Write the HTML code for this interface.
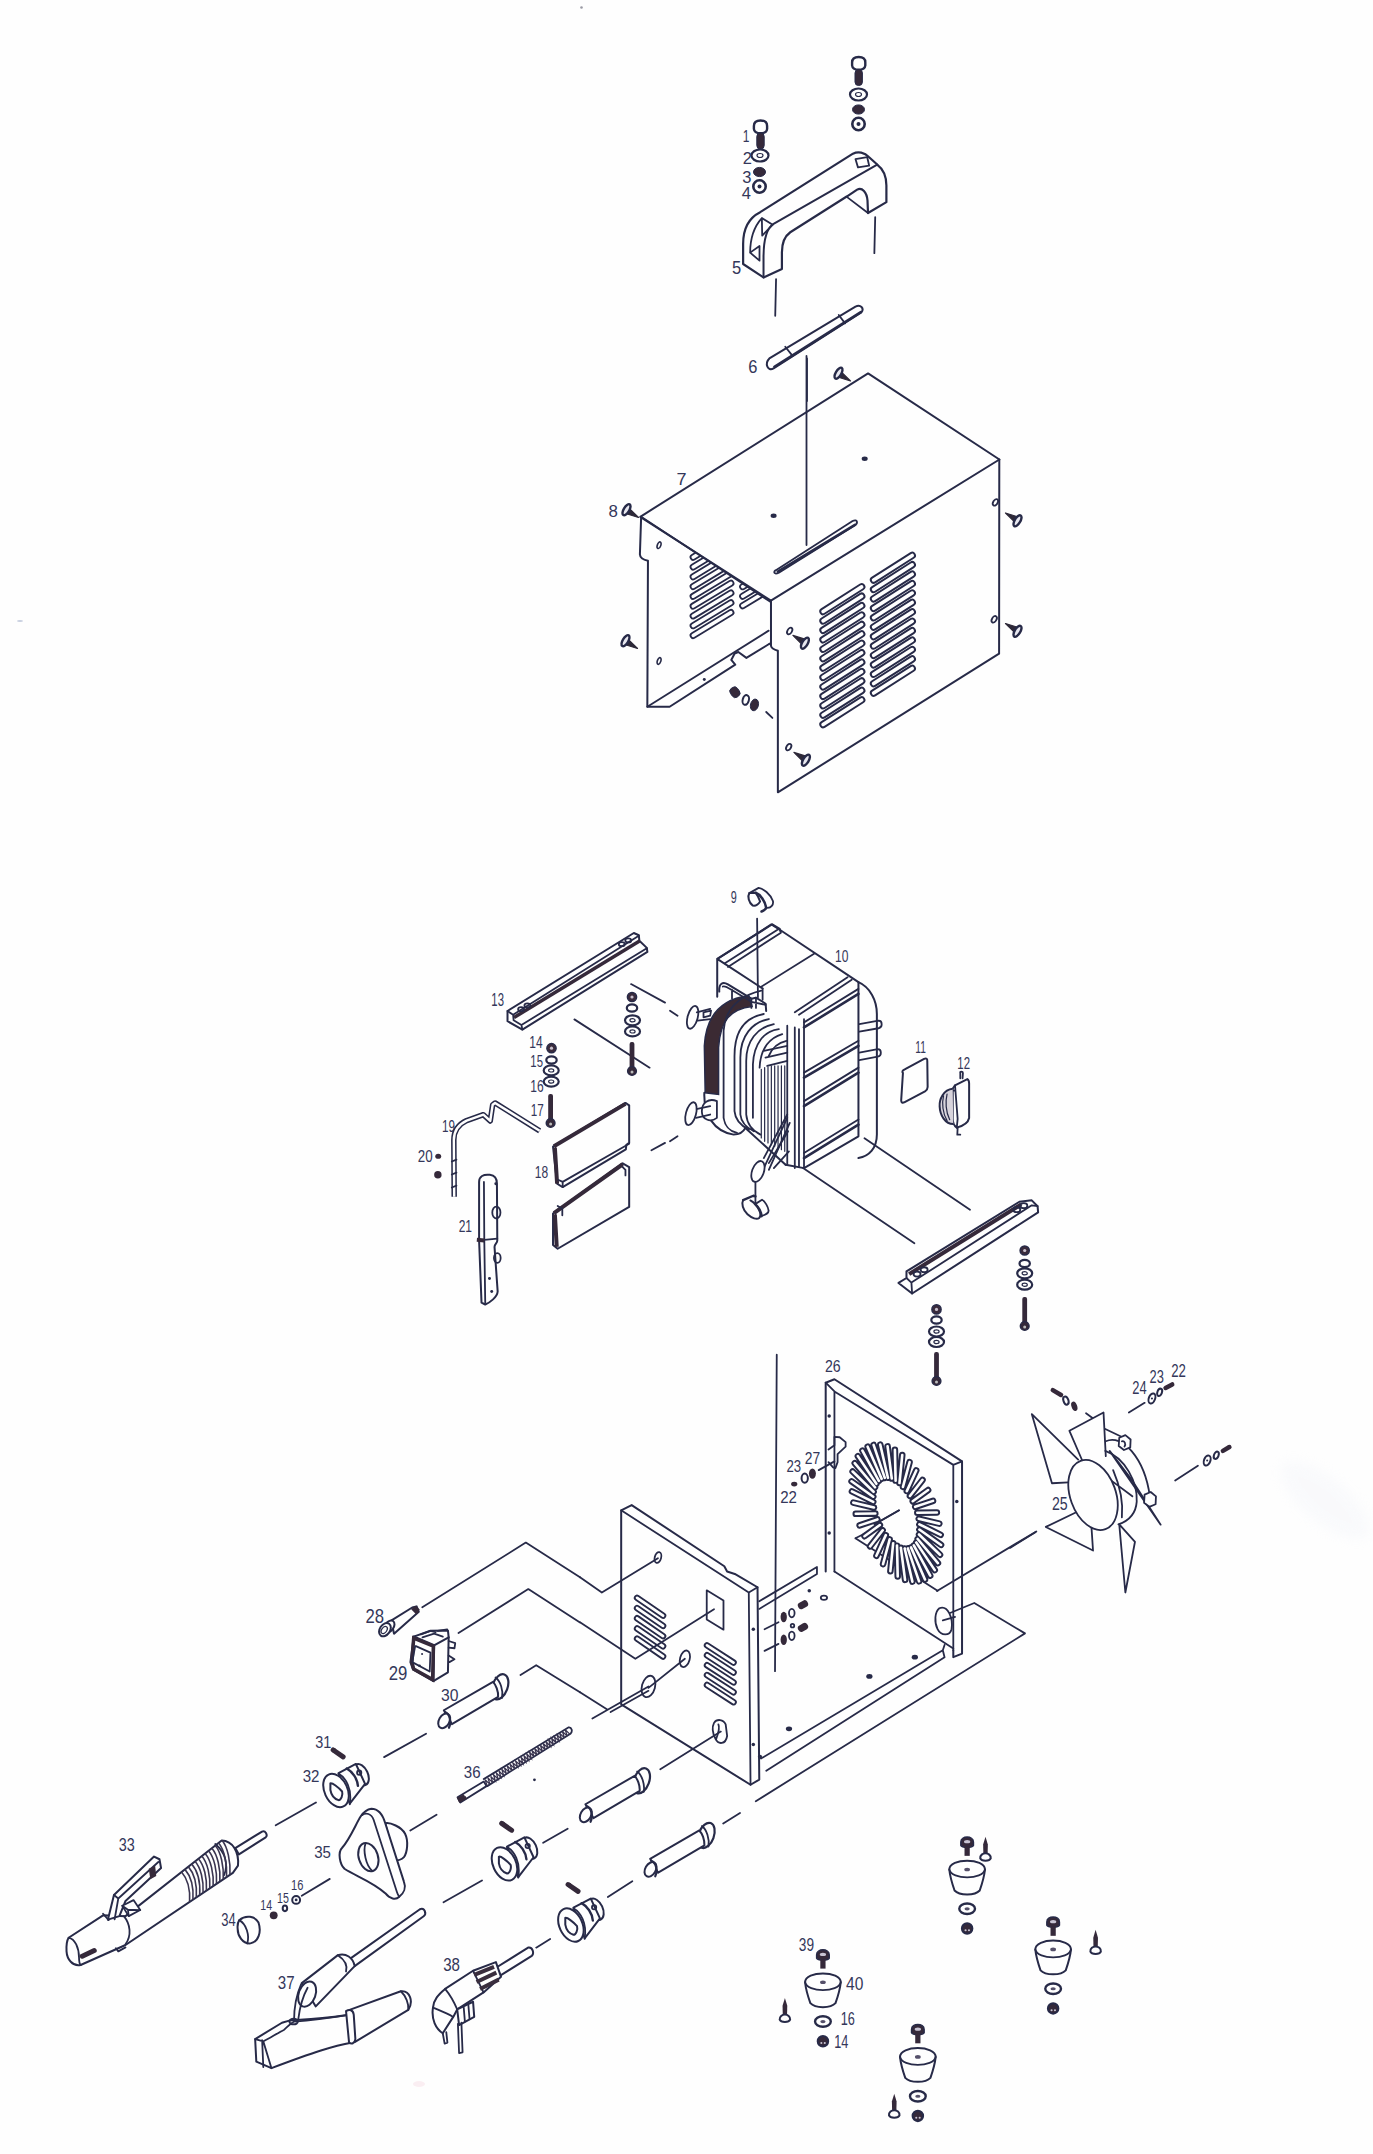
<!DOCTYPE html>
<html><head><meta charset="utf-8"><style>
html,body{margin:0;padding:0;background:#fefefe;width:1373px;height:2154px;overflow:hidden}
svg{display:block}
svg *{vector-effect:non-scaling-stroke}
.s{fill:none;stroke:#272a48;stroke-width:1.8;stroke-linejoin:round;stroke-linecap:round}
.t{fill:none;stroke:#272a48;stroke-width:1.2;stroke-linecap:round}
.k{fill:none;stroke:#272a48;stroke-width:2.6;stroke-linecap:round;stroke-linejoin:round}
.w{fill:#fefefe;stroke:#272a48;stroke-width:1.8;stroke-linejoin:round}
.f{fill:#35293a;stroke:#272a48;stroke-width:1}
text{font-family:"Liberation Sans",sans-serif;fill:#34375a;font-size:17px}
</style></head><body>
<svg width="1373" height="2154" viewBox="0 0 1373 2154">
<defs>
<g id="washer"><ellipse cx="0" cy="0" rx="8.5" ry="6" class="s" style="stroke-width:2.2"/><ellipse cx="0" cy="0" rx="3" ry="2" class="t"/></g>
<g id="lockw"><ellipse cx="0" cy="0" rx="6" ry="4.6" class="f"/></g>
<g id="nut"><circle cx="0" cy="0" r="6.2" class="s" style="stroke-width:2.6"/><circle cx="0" cy="0" r="2" fill="#272a48"/></g>
<g id="bolt"><path d="M-6.6,-1 Q-6.6,-6.5 0,-6.5 Q6.6,-6.5 6.6,-1 L6.6,2 Q6.2,6.2 0,6.2 Q-6.2,6.2 -6.6,2 Z" class="s" style="stroke-width:2.4"/><ellipse cx="0" cy="-1.5" rx="4" ry="2.6" fill="#fefefe"/><rect x="-3.7" y="6" width="7.4" height="16" rx="3.5" class="f"/></g>
<g id="scrB"><path d="M-12.5,-7.5 L-0.5,-3.8 L-3.5,1.4 Z" fill="#2d2838" stroke="#2d2838" stroke-width="1.2" stroke-linejoin="round"/><ellipse cx="-0.5" cy="0.3" rx="2.8" ry="6.2" transform="rotate(31 -0.5 0.3)" fill="#e8e8f0" stroke="#272a48" stroke-width="2.4"/></g>
<g id="scrA"><use href="#scrB" transform="scale(-1,-1)"/></g>
<g id="hole"><ellipse cx="0" cy="0" rx="2.2" ry="3.6" transform="rotate(30)" class="s" style="stroke-width:1.8"/></g>
<g id="nut2"><circle r="4.6" fill="#3a2b3c" stroke="#272a48" stroke-width="1.5"/><circle r="1.6" fill="#c8c0cc"/></g>
<g id="wsm"><ellipse rx="5.2" ry="3.6" class="s" style="stroke-width:2.2"/></g>
<g id="wbg"><ellipse rx="7.5" ry="5" class="s" style="stroke-width:2.2"/><ellipse rx="2.6" ry="1.6" class="t"/></g>
<g id="shaft"><rect x="-2.4" y="0" width="4.8" height="28" rx="2" fill="#35293a"/><circle cx="0" cy="29" r="4.4" fill="#35293a" stroke="#272a48" stroke-width="1.4"/><circle cx="0" cy="30" r="1.5" fill="#bbb"/></g>

</defs>

<!-- ===== G1: handle & top bolts ===== -->
<use href="#bolt" x="858.7" y="63.5"/>
<use href="#washer" x="858.5" y="94.5"/>
<use href="#lockw" x="858.5" y="109.5"/>
<use href="#nut" x="858.5" y="124"/>
<use href="#bolt" x="760.5" y="127"/>
<use href="#washer" x="760" y="155.5"/>
<use href="#lockw" x="759.5" y="172"/>
<use href="#nut" x="759.5" y="186.5"/>
<g transform="translate(700,40) scale(0.16717)">
 <text x="255" y="612" style="font-size:100px" textLength="40" lengthAdjust="spacingAndGlyphs">1</text>
 <text x="255" y="740" style="font-size:100px" textLength="55" lengthAdjust="spacingAndGlyphs">2</text>
 <text x="252" y="855" style="font-size:100px" textLength="55" lengthAdjust="spacingAndGlyphs">3</text>
 <text x="250" y="950" style="font-size:100px" textLength="55" lengthAdjust="spacingAndGlyphs">4</text>
 <text x="192" y="1402" style="font-size:110px" textLength="55" lengthAdjust="spacingAndGlyphs">5</text>
 <text x="288" y="1990" style="font-size:110px" textLength="55" lengthAdjust="spacingAndGlyphs">6</text>
 <!-- handle -->
 <path class="s" style="stroke-width:2.2" d="M258,1340 L258,1220 C258,1120 300,1060 360,1030 L915,680 C945,665 985,672 1010,700 L1060,745 C1100,775 1115,815 1115,870 L1115,970 L1005,1035 L1002,960 C998,910 970,880 940,895 L880,935 L540,1150 C505,1175 490,1215 490,1270 L490,1370 L380,1420 Z"/>
 <path class="s" style="stroke-width:2" d="M1060,745 L440,1100 C400,1125 380,1190 380,1300 L380,1420"/>
 <path class="s" d="M880,940 L1005,1035"/>
 <path class="s" d="M930,712 L1000,700 L1012,752 L945,762 Z"/>
 <path class="s" d="M370,1065 L435,1105 L372,1170 Z M300,1272 L356,1232 L356,1320 Z M370,1065 C320,1120 300,1200 300,1272"/>
 <path class="s" d="M455,1430 L450,1650 M1048,1060 L1043,1275 M640,1905 L640,2160"/>
 <!-- strip 6 -->
 <path class="s" style="stroke-width:2" d="M415,1905 L930,1595 C960,1580 985,1605 965,1630 L440,1965 C405,1985 385,1935 415,1905 Z"/>
 <path class="k" d="M445,1955 L962,1628"/>
 <path class="s" d="M510,1835 L550,1885 M830,1645 L868,1695"/>
</g>

<!-- ===== G2: cover ===== -->
<path class="s" d="M806.5,356 L806.5,545"/>
<g transform="translate(590,360) scale(0.33503)">
 <path class="s" style="stroke-width:2" d="M150,468 L830,40 L1222,297 L540,718 Z"/>
 <text x="258" y="372" style="font-size:52px" textLength="30" lengthAdjust="spacingAndGlyphs">7</text>
 <text x="55" y="470" style="font-size:52px" textLength="28" lengthAdjust="spacingAndGlyphs">8</text>
</g>
<use href="#scrA" x="838" y="373.5"/>
<use href="#scrA" x="626" y="510"/>
<use href="#scrA" x="625" y="641"/>
<use href="#scrB" x="805.4" y="642.9"/>
<use href="#scrB" x="806.4" y="759.9"/>
<use href="#scrB" x="1018" y="631"/>
<use href="#scrB" x="1018" y="520.5"/>
<use href="#hole" x="789.7" y="631"/>
<use href="#hole" x="788.7" y="747.1"/>
<use href="#hole" x="994.2" y="619.3"/>
<use href="#hole" x="995.4" y="502.4"/>
<ellipse cx="864.7" cy="458.8" rx="3" ry="2.2" fill="#272a48"/>
<ellipse cx="773.6" cy="515.8" rx="3" ry="2.2" fill="#272a48"/>
<g transform="translate(770,520) scale(0.19665)">
 <path class="s" style="stroke-width:2" d="M5,409 L5,640 Q8,655 40,665 L40,1385 L1165,680 L1166,-308"/>
 <!-- top slot -->
 <path class="s" d="M30,255 L420,5 C445,-8 450,18 430,28 L45,268 C20,280 15,262 30,255 Z"/>
 <path class="k" d="M40,262 L432,25"/>
 
 <g id="louvL">
 </g>
 <g fill="none" stroke="#272a48" stroke-width="7.5" stroke-linecap="round"><path d="M270,465.0 L466,340.0"/><path d="M270,512.9 L466,387.9"/><path d="M270,560.8 L466,435.8"/><path d="M270,608.7 L466,483.7"/><path d="M270,656.6 L466,531.6"/><path d="M270,704.5 L466,579.5"/><path d="M270,752.4 L466,627.4"/><path d="M270,800.3 L466,675.3"/><path d="M270,848.2 L466,723.2"/><path d="M270,896.1 L466,771.1"/><path d="M270,944.0 L466,819.0"/><path d="M270,991.9 L466,866.9"/><path d="M270,1039.8 L466,914.8"/><path d="M527,305.0 L723,180.0"/><path d="M527,352.9 L723,227.9"/><path d="M527,400.8 L723,275.8"/><path d="M527,448.7 L723,323.7"/><path d="M527,496.6 L723,371.6"/><path d="M527,544.5 L723,419.5"/><path d="M527,592.4 L723,467.4"/><path d="M527,640.3 L723,515.3"/><path d="M527,688.2 L723,563.2"/><path d="M527,736.1 L723,611.1"/><path d="M527,784.0 L723,659.0"/><path d="M527,831.9 L723,706.9"/><path d="M527,879.8 L723,754.8"/></g>
 <g fill="none" stroke="#fefefe" stroke-width="3.6" stroke-linecap="round"><path d="M270,465.0 L466,340.0"/><path d="M270,512.9 L466,387.9"/><path d="M270,560.8 L466,435.8"/><path d="M270,608.7 L466,483.7"/><path d="M270,656.6 L466,531.6"/><path d="M270,704.5 L466,579.5"/><path d="M270,752.4 L466,627.4"/><path d="M270,800.3 L466,675.3"/><path d="M270,848.2 L466,723.2"/><path d="M270,896.1 L466,771.1"/><path d="M270,944.0 L466,819.0"/><path d="M270,991.9 L466,866.9"/><path d="M270,1039.8 L466,914.8"/><path d="M527,305.0 L723,180.0"/><path d="M527,352.9 L723,227.9"/><path d="M527,400.8 L723,275.8"/><path d="M527,448.7 L723,323.7"/><path d="M527,496.6 L723,371.6"/><path d="M527,544.5 L723,419.5"/><path d="M527,592.4 L723,467.4"/><path d="M527,640.3 L723,515.3"/><path d="M527,688.2 L723,563.2"/><path d="M527,736.1 L723,611.1"/><path d="M527,784.0 L723,659.0"/><path d="M527,831.9 L723,706.9"/><path d="M527,879.8 L723,754.8"/></g>
</g>
<g transform="translate(630,500) scale(0.12382)">
 <clipPath id="lpclip"><path d="M90,135 L1130,820 L1130,1800 L0,1800 Z"/></clipPath>
 <path class="s" style="stroke-width:2" d="M90,135 L80,440 Q82,478 145,490 L140,1670 L320,1670 L850,1330 L818,1292 L845,1240 L875,1228 L940,1275 L1120,1165 L1130,1160"/>
 <path class="s" d="M140,1670 L1120,1055"/>
 <ellipse cx="235" cy="365" rx="14" ry="28" transform="rotate(20 235 365)" class="s" style="stroke-width:1.6"/>
 <ellipse cx="235" cy="1300" rx="14" ry="28" transform="rotate(20 235 1300)" class="s" style="stroke-width:1.6"/>
 <circle cx="600" cy="1450" r="12" fill="#272a48"/>
 <g clip-path="url(#lpclip)">
 <g fill="none" stroke="#272a48" stroke-width="7" stroke-linecap="round"><path d="M510,462 L815,277"/><path d="M510,541 L815,356"/><path d="M510,620 L815,435"/><path d="M510,699 L815,514"/><path d="M510,778 L815,593"/><path d="M510,857 L815,672"/><path d="M510,936 L815,751"/><path d="M510,1015 L815,830"/><path d="M510,1094 L815,909"/><path d="M910,700 L1100,585"/><path d="M910,777 L1100,662"/><path d="M910,854 L1100,739"/></g>
 <g fill="none" stroke="#fefefe" stroke-width="3.4" stroke-linecap="round"><path d="M510,462 L815,277"/><path d="M510,541 L815,356"/><path d="M510,620 L815,435"/><path d="M510,699 L815,514"/><path d="M510,778 L815,593"/><path d="M510,857 L815,672"/><path d="M510,936 L815,751"/><path d="M510,1015 L815,830"/><path d="M510,1094 L815,909"/><path d="M910,700 L1100,585"/><path d="M910,777 L1100,662"/><path d="M910,854 L1100,739"/></g>
 </g>
 <path class="s" d="M90,135 L1130,820"/>
 <rect x="812" y="1510" width="70" height="85" rx="30" transform="rotate(-35 847 1552)" class="f"/>
 <ellipse cx="935" cy="1615" rx="25" ry="40" transform="rotate(15 935 1615)" class="s" style="stroke-width:2"/>
 <ellipse cx="1005" cy="1655" rx="32" ry="48" transform="rotate(15 1005 1655)" class="f"/>
 <path class="s" d="M1100,1712 L1150,1760"/>
</g>

<!-- ===== G3: transformer ===== -->
<g transform="translate(670,880) scale(0.16751)">
 <text x="362" y="136" style="font-size:95px" textLength="36" lengthAdjust="spacingAndGlyphs">9</text>
 <text x="985" y="490" style="font-size:95px" textLength="80" lengthAdjust="spacingAndGlyphs">10</text>
 
 <path class="s" d="M520,230 L525,700 M510,1800 L510,1925"/>
 
 <!-- core -->
 <path class="s" style="stroke-width:2" d="M285,470 L605,265 L660,300 L1125,610 L1125,1530 L800,1720 L690,1700"/>
 <path class="s" d="M800,830 L800,1720 M540,640 L860,440 M745,790 L1060,580 M770,805 L1085,595"/>
 <path class="s" d="M700,870 L700,1700 M745,880 L745,1720 M770,890 L770,1710"/>
 <path class="k" d="M800,880 L1125,680 M800,1180 L1125,990 M800,1350 L1125,1150 M800,1660 L1125,1460"/>
 <path class="s" d="M800,850 L1125,650 M800,1150 L1125,960 M800,1320 L1125,1120 M800,1630 L1125,1430"/>
 <path class="s" style="stroke-width:2" d="M1125,610 C1195,640 1235,720 1235,800 L1235,1520 C1235,1600 1190,1650 1125,1660"/>
 <path class="s" d="M1130,860 L1245,840 C1270,840 1270,880 1245,885 L1130,905 M1130,1030 L1240,1010 C1265,1010 1265,1050 1240,1055 L1130,1075"/>
 <!-- coil -->
 <path d="M470,690 C320,710 215,800 205,990 L210,1270 L290,1280 L290,1000 C300,840 360,770 490,755 Z" fill="#3b2a33" stroke="#272a48" stroke-width="1.5"/>
 <path class="s" style="stroke-width:2" d="M205,1270 C200,1400 260,1500 380,1520 C420,1520 440,1500 450,1480 L690,1700"/>
 <path class="s" d="M545,660 C420,690 330,760 320,900 L320,1420 C330,1480 360,1500 400,1510"/>
 <path class="s" d="M560,800 C450,820 385,900 385,1050 L385,1380 C390,1440 430,1470 470,1490 M590,830 C490,850 420,930 420,1060 L420,1400 C425,1450 460,1480 500,1500 M620,860 C520,880 455,960 455,1080 L455,1400 C460,1460 500,1500 540,1520 M650,890 C560,900 500,980 495,1100 L495,1420 M670,920 C600,940 540,1000 535,1120 M695,960 C650,970 610,1000 590,1050"/>
 <path class="t" d="M545,1130 L545,1540 M565,1120 L565,1560 M585,1115 L585,1570 M605,1110 L605,1580 M625,1110 L625,1590 M645,1110 L645,1600 M665,1110 L665,1610 M685,1110 L685,1620"/>
 <path class="s" d="M560,1020 L700,990 M570,1060 L700,1030 M580,1110 L700,1080 M560,1660 L700,1400 M590,1690 L705,1500 M620,1720 L710,1620"/>
 <!-- terminals -->
 <path class="w" d="M200,820 L240,810 L245,780 L200,790 Z"/>
 <ellipse cx="135" cy="820" rx="30" ry="70" transform="rotate(15 135 820)" class="w"/>
 <path class="s" d="M160,790 L240,770 M165,840 L240,830"/>
 <path class="w" d="M190,1380 C190,1330 230,1300 280,1320 L280,1420 C240,1450 190,1430 190,1380 Z"/>
 <path class="s" d="M150,1370 L240,1350 M155,1420 L240,1400"/>
 <ellipse cx="125" cy="1395" rx="30" ry="70" transform="rotate(15 125 1395)" class="w"/>
 <path class="s" d="M560,1720 L700,1420 M590,1730 L715,1450"/>
 <ellipse cx="525" cy="1740" rx="35" ry="65" transform="rotate(20 525 1740)" class="w"/>
 <path class="s" d="M0,780 L45,810 M0,1560 L45,1530"/>
</g>


<g transform="translate(680,910) scale(0.10197)">
 <path class="s" style="stroke-width:2" d="M365,850 L365,480 L905,140 L978,185 L985,212 M365,480 L810,770"/>
 <path class="s" d="M440,522 L960,192 M470,558 L990,222 M810,770 L810,880"/>
 <path class="s" style="stroke-width:2" d="M385,800 C380,720 420,700 470,730 L700,870 L745,860 L810,900 L840,920 L845,990"/>
 <path class="s" d="M420,750 C440,740 470,760 500,780 L700,900 M510,780 L510,870 M700,870 L700,960 M745,860 L745,960 M700,900 L840,930"/>
</g>

<g transform="translate(740,880) scale(0.029133)">
 <path class="s" style="stroke-width:2" d="M320,450 C250,560 300,780 440,880 C540,900 640,820 690,740 C650,620 600,520 540,440 Z"/>
 <path class="s" style="stroke-width:1.8" d="M320,450 L640,270 C800,290 1040,480 1130,720 C1160,860 1060,950 950,960"/>
 <path class="s" style="stroke-width:2.6" d="M540,440 C700,500 860,720 900,950 C880,1010 820,1050 740,1080"/>
</g>
<g transform="translate(730,1175) scale(0.036417)">
 <path class="s" style="stroke-width:2.4" d="M360,690 L640,570 L700,590"/>
 <path class="s" style="stroke-width:2" d="M360,690 C310,780 350,960 480,1080 C600,1190 740,1230 800,1180 C850,1130 840,1040 800,960 C740,840 650,750 560,700"/>
 <path class="s" style="stroke-width:1.8" d="M690,800 L880,680 C960,720 1050,880 1060,980 C1060,1050 1000,1080 860,1130"/>
 <path class="s" style="stroke-width:2.6" d="M690,800 C790,890 860,1010 860,1130"/>
</g>
<!-- ===== G3L: parts 13-21 ===== -->
<g transform="translate(410,920) scale(0.18574)">
 <text x="438" y="465" style="font-size:95px" textLength="68" lengthAdjust="spacingAndGlyphs">13</text>
 <text x="642" y="690" style="font-size:90px" textLength="72" lengthAdjust="spacingAndGlyphs">14</text>
 <text x="648" y="792" style="font-size:90px" textLength="68" lengthAdjust="spacingAndGlyphs">15</text>
 <text x="648" y="925" style="font-size:90px" textLength="72" lengthAdjust="spacingAndGlyphs">16</text>
 <text x="650" y="1055" style="font-size:90px" textLength="70" lengthAdjust="spacingAndGlyphs">17</text>
 <text x="172" y="1140" style="font-size:90px" textLength="70" lengthAdjust="spacingAndGlyphs">19</text>
 <text x="42" y="1302" style="font-size:90px" textLength="80" lengthAdjust="spacingAndGlyphs">20</text>
 <text x="262" y="1682" style="font-size:90px" textLength="72" lengthAdjust="spacingAndGlyphs">21</text>
 <text x="672" y="1388" style="font-size:90px" textLength="72" lengthAdjust="spacingAndGlyphs">18</text>
 <!-- rail 13 -->
 <path class="s" style="stroke-width:2" d="M525,490 L1205,70 L1232,82 L1235,112 L1275,150 L1278,172 L605,590 L525,545 Z"/>
 <path class="s" d="M525,490 L555,510 L1232,85 M555,510 L558,540 L600,565 L1275,152 M600,565 L605,590"/>
 <path d="M560,525 L1238,112" stroke="#35293a" stroke-width="3.5" fill="none"/>
 <ellipse cx="598" cy="480" rx="16" ry="11" class="s"/><ellipse cx="632" cy="460" rx="16" ry="11" class="s"/>
 <ellipse cx="1140" cy="130" rx="16" ry="11" class="s"/><ellipse cx="1175" cy="110" rx="16" ry="11" class="s"/>
 <path class="s" d="M1190,345 L1373,445 M885,535 L1290,795 M1300,1240 L1373,1200"/>
 <!-- bracket 19 -->
 <path d="M238,1490 L236,1185 C236,1130 262,1100 305,1080 L395,1048 L432,1082 L445,995 L458,985 L698,1135" fill="none" stroke="#272a48" stroke-width="5.5" stroke-linejoin="round"/>
 <path d="M238,1490 L236,1185 C236,1130 262,1100 305,1080 L395,1048 L432,1082 L445,995 L458,985 L698,1135" fill="none" stroke="#fefefe" stroke-width="2.4" stroke-linejoin="round"/>
 <path class="s" d="M225,1300 L250,1290 M225,1370 L250,1360 M225,1440 L250,1430"/>
 <ellipse cx="152" cy="1272" rx="16" ry="14" fill="#35293a"/>
 <ellipse cx="150" cy="1372" rx="20" ry="20" fill="#35293a"/>
 <!-- bracket 21 -->
 <path class="s" style="stroke-width:2" d="M372,1410 C372,1380 395,1368 430,1372 C455,1375 468,1390 468,1420 L470,1725 C470,1740 455,1745 455,1760 L472,2000 C470,2030 430,2060 405,2070 L385,2060 L372,1725 Z"/>
 <path class="s" d="M398,1410 L400,1725 L405,2060 M372,1725 L470,1715"/>
 <path d="M360,1722 L400,1725" stroke="#35293a" stroke-width="4"/>
 <ellipse cx="465" cy="1575" rx="22" ry="32" class="s"/>
 <ellipse cx="470" cy="1820" rx="18" ry="26" class="s"/>
 <circle cx="462" cy="1420" r="8" fill="#272a48"/><circle cx="428" cy="1930" r="8" fill="#272a48"/><circle cx="440" cy="2000" r="8" fill="#272a48"/>
 <!-- plates 18 -->
 <path class="s" style="stroke-width:2" d="M770,1220 L1160,985 L1180,998 L1180,1200 L1165,1210 L1162,1235 L822,1438 L792,1420 Z"/>
 <path d="M775,1218 L1160,990 M780,1225 L792,1420" stroke="#35293a" stroke-width="4" fill="none"/>
 <path class="s" d="M800,1400 L822,1410 L822,1438 M822,1410 L1180,1205"/>
 <path class="s" style="stroke-width:2" d="M770,1580 L1145,1310 L1180,1330 L1180,1545 L795,1770 L770,1750 Z"/>
 <path d="M775,1578 L1145,1315 M780,1585 L790,1760" stroke="#35293a" stroke-width="4" fill="none"/>
 <path class="s" d="M795,1540 L820,1555 L820,1590 M1145,1330 L1160,1345 L1160,1375"/>
</g>
<use href="#nut2" x="551.5" y="1048.2"/>
<use href="#wsm" x="551.5" y="1060"/>
<use href="#wbg" x="551.2" y="1070.4"/>
<use href="#wbg" x="551.2" y="1081.6"/>
<use href="#shaft" x="550.6" y="1094"/>
<use href="#nut2" x="632" y="997"/>
<use href="#wsm" x="632" y="1008"/>
<use href="#wbg" x="632.5" y="1020.3"/>
<use href="#wbg" x="632.5" y="1031.4"/>
<use href="#shaft" x="632" y="1042"/>
<use href="#nut2" x="1024.7" y="1250.5"/>
<use href="#wsm" x="1024.7" y="1263.5"/>
<use href="#wbg" x="1024.7" y="1273.3"/>
<use href="#wbg" x="1024.7" y="1284.7"/>
<use href="#shaft" x="1024.7" y="1297"/>
<use href="#nut2" x="936.5" y="1309.4"/>
<use href="#wsm" x="936.5" y="1320"/>
<use href="#wbg" x="936.5" y="1331.5"/>
<use href="#wbg" x="936.5" y="1342"/>
<use href="#shaft" x="936.5" y="1352"/>
<!-- ===== G3R: 11, 12, rail ===== -->
<g transform="translate(880,1020) scale(0.17647)">
 <text x="200" y="185" style="font-size:95px" textLength="60" lengthAdjust="spacingAndGlyphs">11</text>
 <text x="438" y="280" style="font-size:95px" textLength="72" lengthAdjust="spacingAndGlyphs">12</text>
 <path class="s" style="stroke-width:2" d="M130,300 Q120,290 140,280 L250,220 Q270,212 268,235 L270,380 Q270,395 255,405 L140,465 Q120,475 120,455 Z"/>
 <path class="s" style="stroke-width:2" d="M425,370 L495,335 C505,340 505,350 505,360 L505,555 C500,580 470,600 435,610 C420,600 412,580 412,560 L412,390 Z"/>
 <path class="s" d="M420,400 C400,395 380,410 390,430 M425,370 L440,560 L435,610"/>
 <path d="M412,390 C360,395 335,450 338,490 C340,540 370,590 415,590" fill="#d8d4dc" stroke="#272a48" stroke-width="2"/>
 <path class="t" d="M360,430 C350,470 355,530 380,570 M380,420 C370,460 372,520 395,565"/>
 <path class="s" d="M455,330 L455,300 C450,290 470,290 470,300 L468,330 M440,610 L438,650 M440,650 L455,650"/>
 <path class="s" d="M-88,670 L510,1075 M-436,839 L195,1265"/>
 <!-- rail -->
 <path class="s" style="stroke-width:2" d="M105,1490 L150,1462 L150,1425 L790,1030 L860,1022 L893,1055 L896,1090 L182,1550 Z"/>
 <path d="M165,1440 L800,1045" stroke="#35293a" stroke-width="4" fill="none"/>
 <path class="s" d="M150,1462 L178,1488 L182,1550 M178,1488 L860,1050 L893,1055"/>
 <ellipse cx="210" cy="1440" rx="20" ry="14" class="s"/><ellipse cx="250" cy="1415" rx="20" ry="14" class="s"/>
 <ellipse cx="775" cy="1075" rx="20" ry="14" class="s"/><ellipse cx="815" cy="1052" rx="20" ry="14" class="s"/>
</g>

<!-- ===== G4: chassis ===== -->
<g transform="translate(560,1360) scale(0.3496)">
 <text x="758" y="35" style="font-size:48px" textLength="45" lengthAdjust="spacingAndGlyphs">26</text>
 <text x="648" y="320" style="font-size:46px" textLength="42" lengthAdjust="spacingAndGlyphs">23</text>
 <text x="700" y="298" style="font-size:46px" textLength="44" lengthAdjust="spacingAndGlyphs">27</text>
 <text x="630" y="410" style="font-size:46px" textLength="48" lengthAdjust="spacingAndGlyphs">22</text>
 <!-- back panel -->
 <path class="s" style="stroke-width:2" d="M760,605 L760,65 L785,55 L1150,290 L1150,840 L1125,850 L1125,830"/>
 <path class="s" d="M760,65 L785,90 L1125,300 L1150,290 M785,90 L785,605 M1125,300 L1125,830"/>
 <path class="s" d="M785,605 L1125,825 M845,510 L1080,660 M845,510 L875,495 M900,470 L970,430 M1100,730 L1185,695 L1330,782 L560,1262"/>
 <g fill="none" stroke="#272a48" stroke-width="6.5" stroke-linecap="round"><path d="M1028,485 L1090,529 M1027,499 L1087,557 M1023,512 L1081,581 M1019,522 L1072,601 M1012,530 L1059,617 M1004,536 L1044,628 M995,539 L1027,633 M986,539 L1008,634 M975,537 L987,629 M964,531 L966,619 M953,524 L945,604 M943,513 L924,584 M932,501 L905,560 M923,487 L887,533 M915,472 L871,504 M908,456 L857,473 M902,439 L846,440 M898,422 L839,408 M896,406 L835,376 M896,391 L834,347 M897,377 L837,319 M901,364 L843,295 M905,354 L852,275 M912,346 L865,259 M920,340 L880,248 M929,337 L897,243 M938,337 L916,242 M949,339 L937,247 M960,345 L958,257 M971,352 L979,272 M981,363 L1000,292 M992,375 L1019,316 M1001,389 L1037,343 M1009,404 L1053,372 M1016,420 L1067,403 M1022,437 L1078,436 M1026,454 L1085,468 M1028,470 L1089,500 "/></g>
 <g fill="none" stroke="#fefefe" stroke-width="2.6" stroke-linecap="round"><path d="M1028,485 L1090,529 M1027,499 L1087,557 M1023,512 L1081,581 M1019,522 L1072,601 M1012,530 L1059,617 M1004,536 L1044,628 M995,539 L1027,633 M986,539 L1008,634 M975,537 L987,629 M964,531 L966,619 M953,524 L945,604 M943,513 L924,584 M932,501 L905,560 M923,487 L887,533 M915,472 L871,504 M908,456 L857,473 M902,439 L846,440 M898,422 L839,408 M896,406 L835,376 M896,391 L834,347 M897,377 L837,319 M901,364 L843,295 M905,354 L852,275 M912,346 L865,259 M920,340 L880,248 M929,337 L897,243 M938,337 L916,242 M949,339 L937,247 M960,345 L958,257 M971,352 L979,272 M981,363 L1000,292 M992,375 L1019,316 M1001,389 L1037,343 M1009,404 L1053,372 M1016,420 L1067,403 M1022,437 L1078,436 M1026,454 L1085,468 M1028,470 L1089,500 "/></g>
 <path class="s" d="M900,470 L970,430"/>
 <path class="s" d="M785,220 L800,221 L817,235 L817,248 L794,269 L794,292 L788,309 L781,307 L768,292 M785,220 L785,244 L768,256"/>
 <ellipse cx="670" cy="355" rx="9" ry="7" fill="#35293a"/>
 <ellipse cx="700" cy="338" rx="9" ry="13" class="s" style="stroke-width:2"/>
 <ellipse cx="722" cy="325" rx="10" ry="15" fill="#35293a"/>
 <path class="s" d="M740,315 L785,290"/>
 <circle cx="770" cy="160" r="5" fill="#272a48"/><circle cx="770" cy="495" r="5" fill="#272a48"/><circle cx="1135" cy="405" r="5" fill="#272a48"/>
 <path class="s" d="M620,-15 L615,890"/>
 <path class="w" d="M1085,710 C1110,700 1125,740 1120,770 C1115,790 1090,790 1080,770 C1070,750 1072,720 1085,710 Z"/>
 <path class="s" d="M1095,745 L1130,735"/>
 <!-- floor -->
 <path class="s" d="M570,690 L735,592 L735,612 L570,712 M575,1140 L1095,830 L1100,850 L590,1175 M1095,830 L1100,815"/>
 <ellipse cx="755" cy="680" rx="9" ry="6" class="s"/><circle cx="713" cy="660" r="5" fill="#272a48"/>
 <ellipse cx="885" cy="905" rx="9" ry="7" fill="#272a48"/><ellipse cx="1015" cy="850" rx="9" ry="7" fill="#272a48"/><ellipse cx="655" cy="1055" rx="9" ry="7" fill="#272a48"/>
 <ellipse cx="640" cy="735" rx="9" ry="15" fill="#35293a"/><ellipse cx="663" cy="724" rx="8" ry="12" class="s"/><rect x="680" y="690" width="30" height="20" rx="9" transform="rotate(-30 695 700)" fill="#35293a"/>
 <ellipse cx="640" cy="800" rx="9" ry="15" fill="#35293a"/><ellipse cx="663" cy="789" rx="8" ry="12" class="s"/><rect x="680" y="755" width="30" height="20" rx="9" transform="rotate(-30 695 765)" fill="#35293a"/>
 <circle cx="665" cy="760" r="5" class="s"/>
 <path class="s" d="M585,770 L625,750 M585,832 L625,812"/>
 <!-- front panel -->
 <path class="s" style="stroke-width:2" d="M175,430 L205,415 L470,590 L478,605 L500,612 L565,650 L570,1200 L545,1215 L175,985 Z"/>
 <path class="s" d="M175,430 L540,665 L545,1215 M540,665 L565,650"/>
 <circle cx="553" cy="770" r="5" fill="#272a48"/><circle cx="553" cy="1100" r="5" fill="#272a48"/><circle cx="572" cy="1135" r="6" fill="#272a48"/>
</g>
<g transform="translate(580,1500) scale(0.14567)">
 <ellipse cx="535" cy="395" rx="22" ry="38" transform="rotate(15 535 395)" class="s"/>
 <ellipse cx="720" cy="1090" rx="33" ry="58" transform="rotate(15 720 1090)" class="s"/>
 <ellipse cx="470" cy="1280" rx="45" ry="75" transform="rotate(15 470 1280)" class="s"/>
 <path class="s" d="M920,1530 C940,1500 985,1505 1000,1540 L1010,1620 C1000,1680 950,1680 930,1640 C910,1600 905,1560 920,1530 Z M935,1640 C950,1600 960,1560 950,1540"/>
 <path class="s" d="M870,620 L985,690 L985,890 L870,820 Z"/>
 <g fill="none" stroke="#272a48" stroke-width="6.5" stroke-linecap="round"><path d="M392,672 L570,794 M392,742 L570,864 M392,812 L570,934 M392,882 L570,1004 M392,952 L570,1074 M872,998 L1054,1116 M872,1066 L1054,1184 M872,1134 L1054,1252 M872,1202 L1054,1320 M872,1270 L1054,1388 "/></g>
 <g fill="none" stroke="#fefefe" stroke-width="2.8" stroke-linecap="round"><path d="M392,672 L570,794 M392,742 L570,864 M392,812 L570,934 M392,882 L570,1004 M392,952 L570,1074 M872,998 L1054,1116 M872,1066 L1054,1184 M872,1134 L1054,1252 M872,1202 L1054,1320 M872,1270 L1054,1388 "/></g>
 <path class="s" d="M0,530 L150,635 L535,400 M0,840 L380,1090 L920,750 M0,1320 L190,1440 L85,1500 M190,1440 L470,1280 M210,1455 L470,1310 M470,1290 L720,1090"/>
</g>

<g transform="translate(1010,1360) scale(0.1748)">
 <text x="240" y="860" style="font-size:105px" textLength="90" lengthAdjust="spacingAndGlyphs">25</text>
 <text x="700" y="195" style="font-size:100px" textLength="82" lengthAdjust="spacingAndGlyphs">24</text>
 <text x="798" y="130" style="font-size:100px" textLength="82" lengthAdjust="spacingAndGlyphs">23</text>
 <text x="922" y="95" style="font-size:100px" textLength="84" lengthAdjust="spacingAndGlyphs">22</text>
 <path class="s" style="stroke-width:1.8" d="M125,310 L390,570 M125,310 L240,705 L335,700 M340,405 L535,300 L548,550 M340,405 L412,572 M205,955 L385,868 M205,955 L475,1090 L466,955 M625,940 L715,1040 L660,1330 L625,940"/>
 <path class="s" style="stroke-width:1.8" d="M545,520 C660,560 730,700 725,810 C720,880 680,920 620,940"/>
 <path class="s" d="M580,690 L700,780 M590,630 C620,700 650,800 640,900"/>
 <path class="s" style="stroke-width:1.8" d="M548,465 C640,420 770,560 800,780"/>
 <path class="s" d="M545,395 L650,445"/>
 <path d="M570,520 L862,942 L700,690 Z" fill="#fefefe" stroke="#272a48" stroke-width="1.8" stroke-linejoin="round"/>
 <ellipse cx="475" cy="772" rx="130" ry="208" transform="rotate(-20 475 772)" class="w" style="stroke-width:1.8"/>
 <path class="w" d="M625,445 L660,430 L690,455 L688,500 L652,515 L622,492 Z"/>
 <path class="s" d="M640,465 C655,460 665,480 655,495"/>
 <path class="w" d="M770,770 L805,755 L835,780 L833,825 L797,840 L767,817 Z"/>
 <path class="s" d="M0,1075 L145,985 M945,690 L1075,605 M680,300 L770,245 M435,305 L470,330"/>
 <path d="M245,172 L292,200" stroke="#35293a" stroke-width="4.5" stroke-linecap="round"/><circle cx="248" cy="174" r="10" fill="#35293a"/>
 <ellipse cx="320" cy="232" rx="14" ry="24" transform="rotate(-20 320 232)" class="s" style="stroke-width:2"/>
 <ellipse cx="368" cy="265" rx="16" ry="28" transform="rotate(-20 368 265)" fill="#35293a"/>
 <ellipse cx="812" cy="220" rx="18" ry="30" transform="rotate(20 812 220)" class="s" style="stroke-width:2"/><circle cx="812" cy="220" r="6" fill="#272a48"/>
 <ellipse cx="856" cy="185" rx="13" ry="22" transform="rotate(20 856 185)" class="s" style="stroke-width:2"/>
 <path d="M890,160 L928,140" stroke="#35293a" stroke-width="4.5" stroke-linecap="round"/><circle cx="926" cy="140" r="10" fill="#35293a"/>
 <ellipse cx="1128" cy="575" rx="18" ry="30" transform="rotate(20 1128 575)" class="s" style="stroke-width:2"/><circle cx="1128" cy="575" r="6" fill="#272a48"/>
 <ellipse cx="1180" cy="545" rx="13" ry="22" transform="rotate(20 1180 545)" class="s" style="stroke-width:2"/>
 <path d="M1218,520 L1255,498" stroke="#35293a" stroke-width="4.5" stroke-linecap="round"/><circle cx="1253" cy="498" r="10" fill="#35293a"/>
</g>

<!-- ===== G5: accessories ===== -->
<path class="s" d="M422.3,1607.2 L525.8,1542.6 L580,1577.2 M458.5,1633.1 L528.3,1589.1 L580,1622.4 M520.5,1675 L536.2,1665.2 L580,1692.3"/>
<g transform="translate(50,1540) scale(0.51712)">
 <text x="610" y="160" style="font-size:38px" textLength="36" lengthAdjust="spacingAndGlyphs">28</text>
 <text x="655" y="270" style="font-size:38px" textLength="36" lengthAdjust="spacingAndGlyphs">29</text>
 
</g>
<g transform="translate(260,1640) scale(0.3496)">
 <text x="518" y="175" style="font-size:46px" textLength="50" lengthAdjust="spacingAndGlyphs">30</text>
 <text x="158" y="310" style="font-size:46px" textLength="46" lengthAdjust="spacingAndGlyphs">31</text>
 <text x="122" y="405" style="font-size:46px" textLength="48" lengthAdjust="spacingAndGlyphs">32</text>
 <text x="155" y="625" style="font-size:46px" textLength="48" lengthAdjust="spacingAndGlyphs">35</text>
 <text x="583" y="395" style="font-size:46px" textLength="48" lengthAdjust="spacingAndGlyphs">36</text>
 
 <!-- pins -->
 
 <!-- bushings -->
 
 <!-- rod 36 -->
 <path class="w" d="M565,450 L640,405 L648,418 L573,465 Z"/>
 <path d="M565,455 L585,445 M568,462 L590,450" stroke="#35293a" stroke-width="3"/>
 <path class="s" d="M640,398 L882,250 C892,248 895,262 888,268 L650,418"/>
 <path fill="none" stroke="#3a3550" stroke-width="1.3" d="M650,418 L644,400 L658,413 L652,395 L666,408 L660,390 L673,403 L668,385 L681,398 L676,380 L689,393 L684,375 L697,388 L692,370 L705,383 L699,365 L713,378 L707,360 L721,373 L715,355 L729,368 L723,351 L737,363 L731,346 L745,358 L739,341 L752,354 L747,336 L760,349 L755,331 L768,344 L763,326 L776,339 L771,321 L784,334 L778,316 L792,329 L786,311 L800,324 L794,306 L808,319 L802,301 L816,314 L810,296 L824,309 L818,291 L831,304 L826,286 L839,299 L834,281 L847,294 L842,277 L855,289 L850,272 L863,284 L857,267 L871,280 L865,262 L879,275 L873,257 L887,270 "/>
 <circle cx="785" cy="400" r="4" fill="#272a48"/>
 <!-- connecting lines -->
 <path class="s" d="M1145,370 L1318,262 M355,335 L475,268 M45,530 L160,465 M430,545 L505,500 M525,750 L635,688 M810,580 L880,540 M995,735 L1065,690 M1325,525 L1373,495 M790,880 L830,855"/>
</g>

<g transform="translate(55,1820) scale(0.2804)">
 
 
 <text x="732" y="322" style="font-size:52px" textLength="42" lengthAdjust="spacingAndGlyphs">14</text>
 <text x="792" y="295" style="font-size:52px" textLength="42" lengthAdjust="spacingAndGlyphs">15</text>
 <text x="842" y="250" style="font-size:52px" textLength="44" lengthAdjust="spacingAndGlyphs">16</text>
 
 <circle cx="780" cy="340" r="14" fill="#35293a"/>
 <ellipse cx="820" cy="315" rx="8" ry="10" class="s" style="stroke-width:2"/>
 <circle cx="860" cy="285" r="14" class="s" style="stroke-width:2"/><circle cx="860" cy="285" r="5" fill="#272a48"/>
 <path class="s" d="M880,270 L980,210"/>
 </g>

<g transform="translate(320,1800) scale(0.11654)">
 <path class="w" style="stroke-width:2" d="M560,200 C600,190 700,230 730,290 C760,350 750,450 720,490 C700,510 670,520 640,520 Z"/>
 <path class="w" style="stroke-width:2" d="M440,75 C400,80 370,110 350,140 C310,200 260,330 190,410 C150,450 170,550 210,590 C300,650 450,700 560,800 C600,850 650,860 680,830 C720,800 740,750 720,700 L560,200 C540,130 500,75 440,75 Z"/>
 <path class="s" d="M360,130 C395,105 440,115 460,170 L660,790 C668,815 675,825 680,830"/>
 <ellipse cx="415" cy="490" rx="82" ry="125" transform="rotate(-18 415 490)" class="s" style="stroke-width:2"/>
 <path class="s" d="M390,375 C370,430 390,560 450,610"/>
</g>

<g transform="translate(55,1820) scale(0.16023)">
 <text x="398" y="195" style="font-size:110px" textLength="100" lengthAdjust="spacingAndGlyphs">33</text>
 <text x="1038" y="662" style="font-size:110px" textLength="90" lengthAdjust="spacingAndGlyphs">34</text>
 <path class="w" style="stroke-width:2" d="M1125,175 L1292,72 C1312,62 1330,95 1315,108 L1148,215 Z"/>
 <path class="w" style="stroke-width:2" d="M85,735 L300,595 L440,600 L1040,128 C1110,130 1150,200 1142,285 L1110,330 L440,780 L160,905 C110,915 75,870 72,820 C70,780 75,750 85,735 Z"/>
 <path class="s" d="M85,735 C125,740 150,800 150,860 C150,885 155,900 160,905 M430,600 C470,650 480,720 440,775 M1000,150 C1060,200 1085,270 1055,345"/>
 <path fill="none" stroke="#3a3550" stroke-width="1.6" d="M790,325 C825,365 845,431 840,511 M811,308 C846,348 866,417 861,497 M832,291 C867,331 887,403 882,483 M853,275 C888,315 908,389 903,469 M874,258 C909,298 929,375 924,455 M895,242 C930,282 950,361 945,441 M916,225 C951,265 971,347 966,427 M937,209 C972,249 992,332 987,412 M958,192 C993,232 1013,318 1008,398 M979,176 C1014,216 1034,304 1029,384 M1000,159 C1035,199 1055,290 1050,370 M1021,143 C1056,183 1076,276 1071,356 M1042,126 C1077,166 1097,262 1092,342 "/>
 
 <path class="w" style="stroke-width:2" d="M330,622 L368,468 L618,228 L652,245 L662,300 L440,505 L402,600 Z"/>
 <path class="s" d="M368,468 L395,490 L645,262 M395,490 L372,620"/>
 <path d="M585,305 L625,285 L632,350 L595,370 Z" fill="#35293a"/>
 <path class="w" d="M420,535 L490,500 L532,562 L460,600 Z"/>
 <path class="s" d="M420,535 L455,560 L460,600 M455,560 L532,562"/>
 <path class="s" d="M300,585 L335,625 M380,800 L395,820 L440,795"/>
 <path d="M170,850 L245,815" stroke="#35293a" stroke-width="5" stroke-linecap="round"/>
 <path class="w" style="stroke-width:2" d="M1150,625 C1190,590 1250,600 1270,640 C1290,700 1270,760 1220,770 C1170,775 1140,720 1140,680 C1138,660 1140,640 1150,625 Z"/>
 <path class="s" d="M1150,625 C1195,650 1215,720 1200,770"/>
</g>

<g transform="translate(240,1940) scale(0.23306)">
 <text x="162" y="210" style="font-size:80px" textLength="72" lengthAdjust="spacingAndGlyphs">37</text>
 <text x="872" y="135" style="font-size:80px" textLength="72" lengthAdjust="spacingAndGlyphs">38</text>
 <!-- 37 -->
 <path class="w" style="stroke-width:2" d="M470,82 L772,-132 C792,-142 802,-112 788,-102 L492,112 Z"/>
 <path class="w" style="stroke-width:2" d="M265,185 L420,65 C455,55 485,75 492,112 L325,285 Z"/>
 <path class="s" d="M420,65 C450,85 462,110 455,135"/>
 <ellipse cx="288" cy="232" rx="36" ry="56" transform="rotate(20 288 232)" class="w" style="stroke-width:2"/>
 <path class="s" d="M262,190 C240,240 232,300 232,345 M290,205 C265,250 255,300 250,340"/>
 <path class="w" style="stroke-width:2" d="M65,425 L180,355 L215,345 C260,340 300,345 460,322 L482,440 C400,455 320,480 135,550 L70,522 Z"/>
 <path class="s" d="M65,425 L100,435 L135,550 M100,435 C130,420 160,400 190,385 C200,375 215,360 232,350 M95,430 L100,545 M232,350 C300,345 380,335 460,322"/>
 <ellipse cx="230" cy="350" rx="18" ry="12" class="s" style="stroke-width:2"/>
 <path class="w" style="stroke-width:2" d="M470,300 L690,220 C730,215 745,265 722,300 L492,438 Z"/>
 <path class="s" d="M690,220 C712,240 725,275 722,300"/>
 <path class="w" style="stroke-width:2" d="M455,305 C470,295 485,300 488,320 L495,425 C492,445 478,448 468,440 Z"/>
 <!-- 38 -->
 <path class="w" style="stroke-width:2" d="M1100,118 L1238,32 C1258,30 1262,60 1252,68 L1118,152 Z"/>
 <path class="w" style="stroke-width:2" d="M880,210 L1000,132 L1098,95 L1120,158 L1045,225 L932,298 L915,330 L870,400 C840,380 820,340 828,290 C832,255 850,235 880,210 Z"/>
 <path class="s" d="M880,210 C905,240 920,270 932,298 M828,290 C850,300 880,310 915,330 M1000,132 L1045,225"/>
 <path d="M1005,150 L1090,115 M1015,180 L1100,140 M1030,210 L1110,170" stroke="#3a2e3e" stroke-width="4"/>
 <path class="w" style="stroke-width:2" d="M932,298 L1000,265 L1005,330 L940,365 Z"/>
 <path class="s" d="M960,290 L965,350 M980,280 L985,340 M870,400 L878,445 L890,440 L885,395 M935,360 L940,485 L955,482 L950,355"/>
</g>

<g id="pinP"><g transform="translate(430,1660) scale(0.072833)">
 <ellipse cx="960" cy="368" rx="105" ry="180" transform="rotate(20 960 368)" class="w" style="stroke-width:2.2"/>
 <path class="s" d="M900,240 C965,285 1010,420 990,520"/>
 <path class="w" style="stroke-width:2" d="M190,690 L865,300 C905,340 940,430 935,505 L300,880 Z"/>
 <ellipse cx="195" cy="835" rx="72" ry="108" transform="rotate(30 195 835)" class="w" style="stroke-width:2"/>
 <path class="s" style="stroke-width:2.2" d="M205,715 C270,740 300,850 260,930"/>
</g></g>
<use href="#pinP" transform="translate(141.6,94)"/>
<use href="#pinP" transform="translate(206.3,148.6)"/>

<g id="bushB"><g transform="translate(310,1740) scale(0.050983)">
 <path d="M455,195 L650,330" stroke="#35293a" stroke-width="5" stroke-linecap="round"/>
 <circle cx="475" cy="205" r="45" fill="#35293a"/>
 <ellipse cx="1000" cy="680" rx="135" ry="222" transform="rotate(-25 1000 680)" class="w" style="stroke-width:2"/>
 <path class="w" style="stroke-width:2" d="M560,650 L900,470 L1080,860 L780,1250 Z"/>
 <path class="s" style="stroke-width:2.4" d="M720,560 C830,620 930,760 940,900"/>
 <circle cx="965" cy="640" r="42" class="s"/>
 <ellipse cx="510" cy="990" rx="225" ry="345" transform="rotate(-25 510 990)" class="w" style="stroke-width:2"/>
 <path class="s" d="M560,660 C700,740 830,950 780,1260"/>
 <path class="s" style="stroke-width:2" d="M400,850 C430,830 560,930 630,1010 C650,1080 610,1180 560,1180 C500,1160 420,1100 400,980 Z"/>
</g></g>
<use href="#bushB" transform="translate(168.5,73.4)"/>
<use href="#bushB" transform="translate(234.9,134.6)"/>

<g transform="translate(370,1590) scale(0.072833)">
 <path class="w" style="stroke-width:2" d="M290,420 L580,240 L640,225 L670,300 L330,600 Z"/>
 <path d="M585,245 L655,318 M610,235 L665,290" stroke="#35293a" stroke-width="4"/>
 <ellipse cx="265" cy="500" rx="60" ry="90" transform="rotate(35 265 500)" class="w" style="stroke-width:2"/>
 <ellipse cx="205" cy="545" rx="70" ry="100" transform="rotate(35 205 545)" class="w" style="stroke-width:2"/>
 <ellipse cx="195" cy="550" rx="35" ry="55" transform="rotate(35 195 550)" class="t"/>
 <path class="w" style="stroke-width:2" d="M600,640 L830,560 L1070,555 L1080,650 L1070,1130 L870,1250 L590,1090 L555,990 Z"/>
 <path class="s" style="stroke-width:2.2" d="M600,640 L880,760 L1080,650 M880,760 L870,1250"/>
 <path d="M600,660 L870,770 L860,1230 L600,1085 L575,990 Z" fill="none" stroke="#35293a" stroke-width="3.5"/>
 <path class="s" d="M630,770 L830,860 L820,1120 M620,770 L580,990 L820,1120"/>
 <circle cx="715" cy="880" r="14" fill="#272a48"/><circle cx="680" cy="1040" r="18" fill="#272a48"/>
 <path class="s" d="M700,610 L830,560 L900,580 M930,560 L1060,540 M1080,700 L1170,730 L1160,800 L1080,790 M1080,900 L1160,950 L1090,990"/>
 <path class="s" d="M720,650 L880,600 L1000,640"/>
</g>
<!-- ===== G6: feet ===== -->
<g transform="translate(760,1800) scale(0.2622)">
 <text x="148" y="575" style="font-size:70px" textLength="58" lengthAdjust="spacingAndGlyphs">39</text>
 <text x="328" y="725" style="font-size:70px" textLength="66" lengthAdjust="spacingAndGlyphs">40</text>
 <text x="308" y="860" style="font-size:70px" textLength="54" lengthAdjust="spacingAndGlyphs">16</text>
 <text x="283" y="945" style="font-size:70px" textLength="54" lengthAdjust="spacingAndGlyphs">14</text>

 <path d="M766,160 C766,135 814,135 814,160 L814,173 C810,183 770,183 766,173 Z" fill="#35293a" stroke="#272a48" stroke-width="1.5"/>
 <ellipse cx="790" cy="159" rx="12" ry="6" fill="#c8c4d4"/>
 <rect x="780" y="177" width="20" height="36" fill="#35293a"/>
 <path class="w" style="stroke-width:2" d="M722,265 C722,220 858,220 858,265 C855,295 845,325 838,345 C820,365 760,365 742,345 C735,325 725,295 722,265 Z"/>
 <path class="s" d="M722,265 C730,305 850,305 858,265"/>
 <ellipse cx="790" cy="265" rx="11" ry="7" fill="#55506a"/>
 <ellipse cx="790" cy="415" rx="30" ry="20" class="s" style="stroke-width:2.4"/><ellipse cx="790" cy="415" rx="10" ry="6" fill="#55506a"/>
 <circle cx="790" cy="490" r="20" fill="#35293a" stroke="#272a48" stroke-width="2"/><circle cx="784" cy="497" r="4" fill="#c8c4d4"/><circle cx="797" cy="497" r="4" fill="#c8c4d4"/>
 <path d="M860,140 L869,170 L868,210 L852,210 L851,170 Z" fill="#35293a"/>
 <path d="M840,223 C838,197 882,197 880,223 C875,235 845,235 840,223 Z" fill="#fefefe" stroke="#272a48" stroke-width="2"/>

 <path d="M1094,465 C1094,440 1142,440 1142,465 L1142,478 C1138,488 1098,488 1094,478 Z" fill="#35293a" stroke="#272a48" stroke-width="1.5"/>
 <ellipse cx="1118" cy="464" rx="12" ry="6" fill="#c8c4d4"/>
 <rect x="1108" y="482" width="20" height="36" fill="#35293a"/>
 <path class="w" style="stroke-width:2" d="M1050,570 C1050,525 1186,525 1186,570 C1183,600 1173,630 1166,650 C1148,670 1088,670 1070,650 C1063,630 1053,600 1050,570 Z"/>
 <path class="s" d="M1050,570 C1058,610 1178,610 1186,570"/>
 <ellipse cx="1118" cy="570" rx="11" ry="7" fill="#55506a"/>
 <ellipse cx="1118" cy="720" rx="30" ry="20" class="s" style="stroke-width:2.4"/><ellipse cx="1118" cy="720" rx="10" ry="6" fill="#55506a"/>
 <circle cx="1118" cy="795" r="20" fill="#35293a" stroke="#272a48" stroke-width="2"/><circle cx="1112" cy="802" r="4" fill="#c8c4d4"/><circle cx="1125" cy="802" r="4" fill="#c8c4d4"/>
 <path d="M1280,495 L1289,525 L1288,565 L1272,565 L1271,525 Z" fill="#35293a"/>
 <path d="M1260,578 C1258,552 1302,552 1300,578 C1295,590 1265,590 1260,578 Z" fill="#fefefe" stroke="#272a48" stroke-width="2"/>

 <path d="M216,590 C216,565 264,565 264,590 L264,603 C260,613 220,613 216,603 Z" fill="#35293a" stroke="#272a48" stroke-width="1.5"/>
 <ellipse cx="240" cy="589" rx="12" ry="6" fill="#c8c4d4"/>
 <rect x="230" y="607" width="20" height="36" fill="#35293a"/>
 <path class="w" style="stroke-width:2" d="M172,695 C172,650 308,650 308,695 C305,725 295,755 288,775 C270,795 210,795 192,775 C185,755 175,725 172,695 Z"/>
 <path class="s" d="M172,695 C180,735 300,735 308,695"/>
 <ellipse cx="240" cy="695" rx="11" ry="7" fill="#55506a"/>
 <ellipse cx="240" cy="845" rx="30" ry="20" class="s" style="stroke-width:2.4"/><ellipse cx="240" cy="845" rx="10" ry="6" fill="#55506a"/>
 <circle cx="240" cy="920" r="20" fill="#35293a" stroke="#272a48" stroke-width="2"/><circle cx="234" cy="927" r="4" fill="#c8c4d4"/><circle cx="247" cy="927" r="4" fill="#c8c4d4"/>
 <path d="M95,755 L104,785 L103,825 L87,825 L86,785 Z" fill="#35293a"/>
 <path d="M75,838 C73,812 117,812 115,838 C110,850 80,850 75,838 Z" fill="#fefefe" stroke="#272a48" stroke-width="2"/>

 <path d="M578,875 C578,850 626,850 626,875 L626,888 C622,898 582,898 578,888 Z" fill="#35293a" stroke="#272a48" stroke-width="1.5"/>
 <ellipse cx="602" cy="874" rx="12" ry="6" fill="#c8c4d4"/>
 <rect x="592" y="892" width="20" height="36" fill="#35293a"/>
 <path class="w" style="stroke-width:2" d="M534,980 C534,935 670,935 670,980 C667,1010 657,1040 650,1060 C632,1080 572,1080 554,1060 C547,1040 537,1010 534,980 Z"/>
 <path class="s" d="M534,980 C542,1020 662,1020 670,980"/>
 <ellipse cx="602" cy="980" rx="11" ry="7" fill="#55506a"/>
 <ellipse cx="602" cy="1130" rx="30" ry="20" class="s" style="stroke-width:2.4"/><ellipse cx="602" cy="1130" rx="10" ry="6" fill="#55506a"/>
 <circle cx="602" cy="1205" r="20" fill="#35293a" stroke="#272a48" stroke-width="2"/><circle cx="596" cy="1212" r="4" fill="#c8c4d4"/><circle cx="609" cy="1212" r="4" fill="#c8c4d4"/>
 <path d="M512,1120 L521,1150 L520,1190 L504,1190 L503,1150 Z" fill="#35293a"/>
 <path d="M492,1203 C490,1177 534,1177 532,1203 C527,1215 497,1215 492,1203 Z" fill="#fefefe" stroke="#272a48" stroke-width="2"/>
</g>
<path class="s" d="M1036.3,1531.4 L937,1591"/>
<defs><filter id="bl" x="-50%" y="-50%" width="200%" height="200%"><feGaussianBlur stdDeviation="6"/></filter></defs>
<ellipse cx="1325" cy="1500" rx="55" ry="22" transform="rotate(40 1325 1500)" fill="#e6eaf4" opacity="0.2" filter="url(#bl)"/>
<ellipse cx="419" cy="2084" rx="6" ry="3" fill="#f6d8e2" opacity="0.4"/>
<circle cx="581.5" cy="7.5" r="1.3" fill="#9a9aa4"/>
<ellipse cx="20" cy="621" rx="3" ry="1" fill="#c8d0e0"/>
</svg>
</body></html>
